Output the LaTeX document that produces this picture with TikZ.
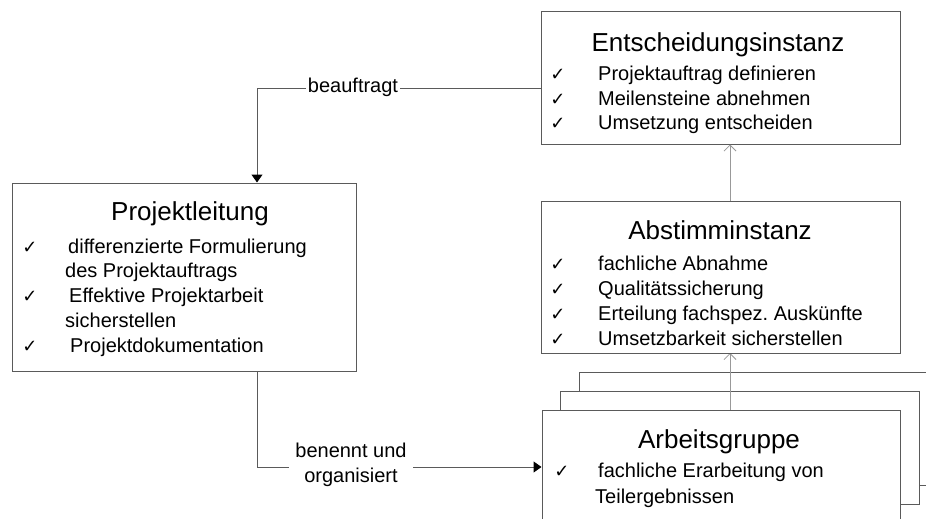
\documentclass[tikz,border=0pt]{standalone}
\usepackage{fontspec}
\setmainfont{Liberation Sans}
\newfontfamily\chkfont{DejaVu Sans}
\usetikzlibrary{arrows.meta}
\frenchspacing
\definecolor{boxgray}{HTML}{5A5A5A}
\definecolor{arrgray}{HTML}{999999}
\tikzset{
  box/.style={draw=boxgray, line width=1pt, fill=white, inner sep=0pt},
  ttl/.style={anchor=base, inner sep=0pt, font=\fontsize{26}{30}\selectfont},
  itm/.style={anchor=base west, inner sep=0pt, font=\fontsize{20}{24}\selectfont},
  chk/.style={anchor=base, inner sep=0pt, font=\chkfont\fontsize{18}{20}\selectfont},
  lbl/.style={inner sep=2pt, fill=white, font=\fontsize{20}{25}\selectfont, align=center},
  conn/.style={draw=boxgray, line width=1pt},
  upconn/.style={draw=arrgray, line width=1pt, -{Straight Barb[length=6pt,width=12pt,line width=0.8pt]}},
  fillarrow/.style={-{Triangle[length=8pt,width=11pt,color=black]}}
}
\begin{document}
\begin{tikzpicture}[x=1pt,y=-1pt]
\useasboundingbox (0,0) rectangle (926,519);
\clip (0,0) rectangle (926,519);
\fill[white] (0,0) rectangle (926,519);

% Arbeitsgruppe stack (back boxes)
\node[box, minimum width=361pt, minimum height=113pt] (g3) at (759.5,428.5) {};
\node[box, minimum width=359pt, minimum height=113pt] (g2) at (739.5,447.5) {};
\coordinate (gtop) at (730,410);
\draw[upconn] (gtop) -- (730,353);
\node[box, minimum width=358pt, minimum height=140pt] (g1) at (721,480) {};

% Entscheidungsinstanz
\node[box, minimum width=359pt, minimum height=132pt] (e) at (720.5,78) {};
\node[ttl] (et) at (718,52) {Entscheidungsinstanz};
\node[chk] (ec1) at (558,81) {✓};
\node[chk] (ec2) at (558,105) {✓};
\node[chk] (ec3) at (558,129) {✓};
\node[itm] (ei1) at (598,81) {Projektauftrag definieren};
\node[itm] (ei2) at (598,105) {Meilensteine abnehmen};
\node[itm] (ei3) at (598,129) {Umsetzung entscheiden};

% Abstimminstanz
\node[box, minimum width=359pt, minimum height=152pt] (a) at (720.5,277) {};
\node[ttl] (at) at (720,239) {Abstimminstanz};
\node[chk] (ac1) at (558,270) {✓};
\node[chk] (ac2) at (558,295) {✓};
\node[chk] (ac3) at (558,320) {✓};
\node[chk] (ac4) at (558,345) {✓};
\node[itm] (ai1) at (598,270) {fachliche Abnahme};
\node[itm] (ai2) at (598,295) {Qualitätssicherung};
\node[itm] (ai3) at (598,320) {Erteilung fachspez. Auskünfte};
\node[itm] (ai4) at (598,345) {Umsetzbarkeit sicherstellen};

% Projektleitung
\node[box, minimum width=344pt, minimum height=188pt] (p) at (184,277) {};
\node[ttl] (pt) at (190,220) {Projektleitung};
\node[chk] (pc1) at (30,253) {✓};
\node[chk] (pc2) at (30,302) {✓};
\node[chk] (pc3) at (30,352) {✓};
\node[itm] (pi1) at (68,253) {differenzierte Formulierung};
\node[itm] (pi1b) at (65,277) {des Projektauftrags};
\node[itm] (pi2) at (69,302) {Effektive Projektarbeit};
\node[itm] (pi2b) at (65,327) {sicherstellen};
\node[itm] (pi3) at (70,352) {Projektdokumentation};

% Arbeitsgruppe text
\node[ttl] (gt) at (719,448) {Arbeitsgruppe};
\node[chk] (gc1) at (562,477) {✓};
\node[itm] (gi1) at (598,477) {fachliche Erarbeitung von};
\node[itm] (gi1b) at (595,503) {Teilergebnissen};

% Connectors
\draw[upconn] (a.north -| 730,0) -- (e.south -| 730,0);
\draw[conn, fillarrow] (e.west |- 0,88) -- (257,88) -- (p.north -| 257,0);
\node[lbl] (lb1) at (353,87) {beauftragt};
\draw[conn, fillarrow] (p.south -| 257,0) -- (257,467) -- (g1.west |- 0,467);
\node[lbl, inner sep=0pt, minimum width=124pt] (lb2) at (351,465) {benennt und\\organisiert};
\end{tikzpicture}
\end{document}
